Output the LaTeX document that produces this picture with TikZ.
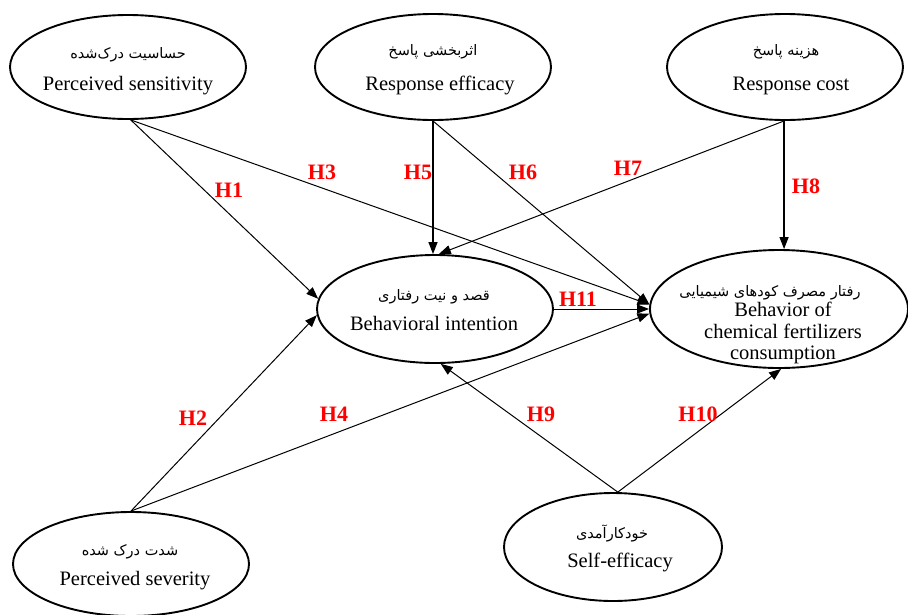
\documentclass[tikz,border=0pt]{standalone}
\usepackage{fontspec}
\setmainfont{Liberation Serif}
\newfontfamily\fa[Script=Arabic]{DejaVu Sans}
\TeXXeTstate=1
\usetikzlibrary{shapes.geometric,arrows.meta}
\begin{document}
\begin{tikzpicture}[x=1pt,y=-1pt,
  var/.style={ellipse, draw, line width=1.9pt, inner sep=0pt},
  en/.style={font=\fontsize{20.5}{21.5}\selectfont, inner sep=0pt, align=center},
  fatext/.style={font=\fa\fontsize{14.5}{16}\selectfont, inner sep=0pt},
  conn/.style={line width=1pt, -{Triangle[length=12pt,width=9pt]}},
  hlab/.style={text=red, font=\bfseries\fontsize{22}{22}\selectfont, inner sep=0pt}
]
\useasboundingbox (0,0) rectangle (908,614);

% ellipses
\node[var, minimum width=236pt, minimum height=104pt] (ps)  at (128,67) {};
\node[var, minimum width=236pt, minimum height=106pt] (re)  at (433,67) {};
\node[var, minimum width=236pt, minimum height=106pt] (rc)  at (785,67) {};
\node[var, minimum width=236pt, minimum height=108pt] (bi)  at (435,309) {};
\node[var, minimum width=258pt, minimum height=118pt] (beh) at (779,309) {};
\node[var, minimum width=236pt, minimum height=104pt] (sev) at (131,564) {};
\node[var, minimum width=218pt, minimum height=108pt] (se)  at (613,547) {};

% texts
\node[fatext] (psf) at (128,55) {\beginR حساسیت درک‌شده\endR};
\node[en] (pse) at (128,86) {Perceived sensitivity};
\node[fatext] (ref) at (433,52) {\beginR اثربخشی پاسخ\endR};
\node[en] (ree) at (440,85) {Response efficacy};
\node[fatext] (rcf) at (786,52) {\beginR هزینه پاسخ\endR};
\node[en] (rce) at (791,86) {Response cost};
\node[fatext] (bif) at (434,297) {\beginR قصد و نیت رفتاری\endR};
\node[en] (bie) at (434,323) {Behavioral intention};
\node[fatext] (behf) at (770,293) {\beginR رفتار مصرف کودهای شیمیایی\endR};
\node[en] (behe) at (783,333) {Behavior of\\chemical fertilizers\\consumption};
\node[fatext] (sevf) at (130,552) {\beginR شدت درک شده\endR};
\node[en] (seve) at (135,581) {Perceived severity};
\node[fatext] (sef) at (612,533) {\beginR خودکارآمدی\endR};
\node[en] (see) at (620,562) {Self-efficacy};

% connectors
\draw[conn] (ps.-87) -- (bi.175);
\draw[conn] (ps.-87) -- (beh.178);
\draw[conn, line width=1.3pt] (re.south) -- (re.south |- bi.north);
\draw[conn] (re.south) -- (beh.178);
\draw[conn] (rc.-91) -- (bi.86);
\draw[conn, line width=1.3pt] (rc.-91) -- (rc.-91 |- beh.north);
\draw[conn] (bi.east) -- (beh.west);
\draw[conn] (sev.north) -- (bi.183);
\draw[conn] (sev.north) -- (beh.182);
\draw[conn] (se.85) -- (bi.-84);
\draw[conn] (se.85) -- (beh.-88);

% labels
\node[hlab] (h1) at (229,190) {H1};
\node[hlab] (h3) at (322,172) {H3};
\node[hlab] (h5) at (418,172) {H5};
\node[hlab] (h6) at (523,172) {H6};
\node[hlab] (h7) at (628,168) {H7};
\node[hlab] (h8) at (806,186) {H8};
\node[hlab] (h11) at (578,299) {H11};
\node[hlab] (h2) at (193,418) {H2};
\node[hlab] (h4) at (334,414) {H4};
\node[hlab] (h9) at (541,414) {H9};
\node[hlab] (h10) at (698,414) {H10};
\end{tikzpicture}
\end{document}
